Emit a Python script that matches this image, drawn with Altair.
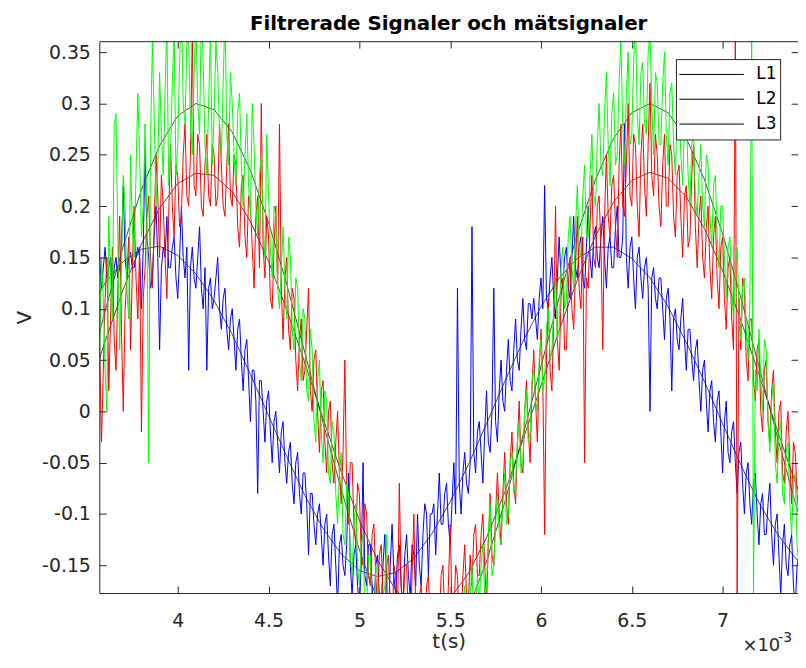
import altair as alt
import pandas as pd

# ---------------- text ----------------
TITLE = "Filtrerade Signaler och mätsignaler"
X_TITLE = "t(s)"
Y_TITLE = "V"
SERIES = ["L1", "L2", "L3"]

# ---------------- axes ----------------
X_DOMAIN_MS = [3.568, 7.415]
Y_DOMAIN = [-0.177, 0.3607]
X_TICKS_MS = [4.0, 4.5, 5.0, 5.5, 6.0, 6.5, 7.0]
Y_TICKS = [-0.15, -0.1, -0.05, 0, 0.05, 0.1, 0.15, 0.2, 0.25, 0.3, 0.35]

# ---------------- filtered (smooth) signals, t in ms ----------------
SMOOTH_T_MS = [3.5, 3.6, 3.7, 3.8, 3.9, 4.0, 4.1, 4.2, 4.3, 4.4, 4.5, 4.6, 4.7, 4.8,
               4.9, 5.0, 5.1, 5.2, 5.3, 5.4, 5.5, 5.6, 5.7, 5.8, 5.9, 6.0, 6.1, 6.2,
               6.3, 6.4, 6.5, 6.6, 6.7, 6.8, 6.9, 7.0, 7.1, 7.2, 7.3, 7.4, 7.5]
L1 = [0.030, 0.098, 0.161, 0.216, 0.259, 0.288, 0.300, 0.294, 0.272, 0.235, 0.184,
      0.124, 0.057, -0.011, -0.076, -0.135, -0.184, -0.218, -0.237, -0.239, -0.223,
      -0.192, -0.146, -0.089, -0.024, 0.044, 0.111, 0.173, 0.226, 0.266, 0.291,
      0.300, 0.291, 0.266, 0.226, 0.173, 0.111, 0.044, -0.024, -0.089, -0.146]
L2 = [0.015, 0.068, 0.119, 0.163, 0.198, 0.222, 0.232, 0.230, 0.214, 0.185, 0.146,
      0.099, 0.047, -0.007, -0.059, -0.106, -0.145, -0.174, -0.190, -0.192, -0.182,
      -0.158, -0.123, -0.079, -0.028, 0.025, 0.079, 0.128, 0.171, 0.204, 0.225,
      0.233, 0.227, 0.209, 0.178, 0.137, 0.089, 0.036, -0.018, -0.069, -0.115]
L3 = [0.095, 0.125, 0.146, 0.158, 0.161, 0.152, 0.134, 0.108, 0.075, 0.036, -0.004,
      -0.044, -0.082, -0.114, -0.139, -0.155, -0.161, -0.157, -0.143, -0.119, -0.088,
      -0.052, -0.012, 0.029, 0.068, 0.102, 0.130, 0.149, 0.160, 0.160, 0.149,
      0.130, 0.102, 0.067, 0.029, -0.012, -0.052, -0.089, -0.119, -0.143, -0.157]

# ---------------- measured signals (mV), sampled every 0.01 ms from 3.56 ms ----------------
T0_MS = 3.56
DT_MS = 0.01
GREEN_MV = [
    20, 60, 150, 110, 40, 0, 190, 130, 90, 280,
    290, 170, 60, 140, 230, 200, 120, 90, 250, 180,
    150, 230, 310, 250, 170, 200, 280, 190, -50, 260,
    360, 290, 200, 240, 330, 270, 230, 310, 380, 220,
    250, 320, 370, 230, 260, 340, 400, 300, 280, 360,
    360, 280, 250, 330, 380, 300, 270, 390, 340, 260,
    230, 300, 370, 240, 290, 360, 330, 270, 250, 320,
    390, 270, 240, 330, 300, 250, 220, 290, 310, 240,
    200, 250, 290, 220, 190, 300, 260, 200, 170, 230,
    250, 180, 150, 270, 210, 160, 130, 200, 190, 120,
    100, 140, 180, 120, 90, 170, 150, 80, 60, 130,
    120, 50, 30, 100, 90, 20, 10, 80, 60, -10,
    -30, 30, 50, -20, -50, 20, 10, -60, -70, -10,
    -20, -80, -110, -60, -40, -120, -130, -70, -80, -140,
    -160, -110, -90, -150, -170, -130, -120, -200, -190, -140,
    -140, -190, -210, -150, -160, -220, -230, -180, -170, -120,
    -250, -210, -190, -240, -260, -220, -200, -270, -240, -190,
    -210, -250, -270, -230, -220, -280, -260, -210, -200, -250,
    -270, -220, -230, -260, -250, -210, -190, -240, -260, -230,
    -210, -260, -250, -200, -180, -230, -240, -190, -200, -250,
    -230, -190, -170, -240, -220, -180, -150, -210, -200, -160,
    -190, -150, -130, -180, -170, -120, -90, -160, -150, -110,
    -80, -120, -130, -90, -60, -110, -100, -50, -40, -80,
    -70, -30, -10, -60, -50, 0, 20, -30, -20, 30,
    40, 10, 0, 50, 70, 20, 30, 80, 100, 50,
    60, 100, 130, 70, 80, 140, 160, 100, 110, 170,
    190, 140, 120, 180, 220, 160, 150, 210, 240, 170,
    170, 230, 270, 210, 200, 260, 300, 240, 230, 290,
    330, 260, 220, 290, 310, 240, 250, 320, 360, 280,
    240, 310, 350, 260, 270, 340, 380, 290, 260, 330,
    340, 280, 270, 350, 370, 300, 250, 330, 320, 260,
    260, 320, 350, 270, 240, 310, 320, 260, 230, 300,
    300, 250, 220, 280, 290, 230, 200, 260, 270, 210,
    190, 230, 260, 200, 180, 250, 240, 190, 160, 220,
    230, 170, 140, 200, 200, 150, 110, 160, 170, 120,
    90, 140, 160, 100, 70, 120, 130, 80, 50, 110,
    370, -180, 40, 20, 80, 30, 0, 70, 60, -10,
    -40, 10, 30, -50, -70, -20, -10, -80, -90, -40,
    -30, -90, -120, -70, -60, -130, -150]
RED_MV = [
    140, 60, -30, 40, 110, 150, 20, 90, 160, 70,
    40, 120, 190, 80, 0, 100, 130, 170, 60, 140,
    200, 130, 90, 160, -20, 110, 140, 190, 210, 150,
    120, 180, 250, 210, 150, 230, 200, 150, 110, 190,
    260, 200, 170, 240, 230, 180, 190, 250, 280, 210,
    200, 250, 370, 220, 210, 270, 260, 200, 190, 240,
    270, 210, 200, 260, 250, 200, 210, 280, 240, 200,
    190, 240, 280, 210, 200, 250, 240, 180, 160, 220,
    230, 170, 150, 210, 200, 160, 120, 190, 210, 140,
    300, 160, 130, 190, 170, 110, 100, 160, 200, 120,
    280, 120, 70, 130, 150, 80, 60, 120, 110, 50,
    20, 70, 90, 30, 40, 80, 120, 20, 0, 50,
    60, 0, -40, 20, 30, -30, -60, 0, 10, -50,
    -70, -30, 0, -60, -90, -40, 50, -80, -110, -50,
    -50, -110, -130, -70, -80, -140, -150, -90, -100, -160,
    -170, -120, -110, -160, -190, -140, -130, -180, -200, -150,
    -140, -190, -210, -150, -160, -200, -70, -170, -200, -150,
    -150, -200, -220, -160, -100, -190, -230, -180, -170, -210,
    -220, -170, -160, -210, -240, -190, -180, -230, -210, -160,
    -150, -200, -230, -170, -110, -190, -200, -150, -160, -210,
    -210, -160, -130, -180, -190, -140, -170, -120, -110, -160,
    -160, -120, -100, -150, -190, -130, -80, -140, -150, -100,
    -60, -100, -130, -80, -40, -90, -110, -50, -20, -70,
    -90, -30, 10, -50, -60, 0, 30, -20, -50, 20,
    60, 10, -30, 40, 80, 30, -120, 50, 110, 40,
    20, 90, 200, 70, 40, 110, 130, 60, 60, 120,
    150, 100, 80, 140, 190, 120, 100, 170, -50, 130,
    120, 180, 230, 150, 140, 200, 210, 160, 60, 190,
    250, 190, 170, 220, 230, 180, 150, 240, 280, 200,
    190, 240, 300, 210, 200, 270, 260, 200, 170, 250,
    280, 220, 190, 260, 320, 230, 210, 270, 250, 200,
    180, 240, 270, 200, 200, 260, 250, 190, 170, 230,
    240, 190, 150, 210, 220, 160, 170, 230, 260, 180,
    140, 190, 210, 150, 130, 180, 200, 140, 110, 170,
    190, 130, 100, 160, 170, 110, 80, 140, 150, 90,
    60, 370, -180, 110, 60, 130, 120, 50, 30, 90,
    90, 30, 10, 60, 70, 0, -20, 40, 50, -10,
    -30, 20, 40, -20, -50, 0, 10, -60, -70, -20,
    0, -50, -90, -30, -40, -80, -100]
BLUE_MV = [
    195, 150, 120, 140, 160, 130, 140, 150, 110, 140,
    150, 130, 140, 160, 220, 150, 130, 150, 155, 140,
    140, 150, 160, 150, 100, 160, 255, 170, 150, 120,
    130, 170, 200, 150, 60, 140, 160, 150, 190, 140,
    140, 160, 170, 130, 110, 150, 200, 150, 130, 160,
    40, 140, 160, 130, 120, 150, 180, 120, 100, 140,
    40, 120, 130, 100, 110, 130, 150, 100, 80, 110,
    120, 80, 60, 90, 100, 70, 40, 80, 90, 50,
    20, 60, 70, 30, -10, 40, 40, 10, -80, 30,
    30, 0, -30, 10, 20, -20, -50, -10, 0, -30,
    -60, -20, -10, -50, -70, -40, -30, -70, -90, -50,
    -40, -80, -100, -60, -60, -90, -140, -80, -80, -110,
    -130, -100, -90, -120, -150, -110, -100, -140, -170, -120,
    -110, -150, -190, -130, -120, -150, -160, -130, -60, -150,
    -180, -140, -130, -170, -190, -150, -50, -160, -170, -130,
    -130, -170, -200, -150, -140, -180, -190, -150, -120, -170,
    -200, -150, -110, -160, -180, -140, -130, -170, -190, -140,
    -120, -160, -180, -130, -140, -170, -100, -150, -170, -120,
    -90, -100, -160, -100, -100, -90, -140, -100, -60, -110,
    -110, -80, -70, -110, -130, -90, -50, -100, 120, -70,
    -100, -60, -40, -70, -80, -50, 180, -40, -60, -20,
    -10, -40, -70, -20, 20, -30, -40, 0, 120, -10,
    -30, 20, 50, 10, 0, 40, 70, 30, 20, 60,
    90, 50, 40, 80, 110, 70, 60, 105, 105, 90,
    110, 90, 70, 110, 130, 100, 220, 110, 100, 130,
    150, 110, 90, 130, 170, 130, 120, 150, 160, 120,
    110, 150, 190, 140, 130, 160, 170, 130, 120, 160,
    200, 150, 130, 170, 180, 150, 140, 170, 190, 150,
    120, 160, 170, 140, 140, 180, 200, 150, 150, 170,
    280, 150, 120, 160, 170, 130, 100, 150, 160, 130,
    110, 140, 150, 120, 0, 130, 140, 110, 100, 130,
    130, 100, 70, 110, 120, 90, 20, 90, 100, 70,
    60, 90, 110, 70, 40, 80, 80, 50, 30, 60,
    70, 30, 0, 40, 50, 10, -20, 20, 30, -10,
    -30, 10, 20, -20, -60, -10, 10, -40, -50, -20,
    -10, -50, -80, -40, -30, -70, -100, -60, -50, -90,
    -110, -70, -60, -100, -130, -90, -80, -120, -120, -90,
    -70, -120, -150, -110, -100, -140, -180, -130, -110, -150,
    -160, -130, -120, -170, -190, -150, -140]

# ---------------- tables ----------------
smooth_rows = []
for name, vals in zip(SERIES, [L1, L2, L3]):
    for t, v in zip(SMOOTH_T_MS, vals):
        smooth_rows.append({"t": t * 1e-3, "v": v, "series": name})
smooth_df = pd.DataFrame(smooth_rows)


def measured(mv):
    return pd.DataFrame({"t": [(T0_MS + DT_MS * i) * 1e-3 for i in range(len(mv))],
                         "v": [m / 1000.0 for m in mv]})


green_df = measured(GREEN_MV)
red_df = measured(RED_MV)
blue_df = measured(BLUE_MV)

# ---------------- styling ----------------
W, H = 704, 556
AX = "#262626"
FONT = "DejaVu Sans"
xs = alt.Scale(domain=[X_DOMAIN_MS[0] * 1e-3, X_DOMAIN_MS[1] * 1e-3], nice=False, zero=False)
ys = alt.Scale(domain=Y_DOMAIN, nice=False, zero=False)
X_TICKS = [v * 1e-3 for v in X_TICKS_MS]
xlab = "format(datum.value*1000, '.1~f')"
ylab = "datum.value < 0 ? '-' + format(-datum.value, '.2~f') : format(datum.value, '.2~f')"


def tick_axis(orient, values, offset=0, domain=False, ticks=True):
    return alt.Axis(orient=orient, offset=offset, values=values, labels=False,
                    domain=domain, domainColor=AX, domainWidth=1,
                    ticks=ticks, tickSize=7, tickColor=AX, tickWidth=1,
                    grid=False, title=None, zindex=1)


main_x = alt.Axis(orient="bottom", title=X_TITLE, values=X_TICKS, labelExpr=xlab,
                  ticks=False, tickSize=0, domain=True, domainColor=AX, domainWidth=1,
                  grid=False, labelFont=FONT, labelFontSize=19, labelColor=AX,
                  labelPadding=19, titleFont=FONT, titleFontSize=20, titleColor=AX,
                  titleFontWeight="normal", titleY=55, titleBaseline="alphabetic", zindex=1)
main_y = alt.Axis(orient="left", title=Y_TITLE, values=Y_TICKS, labelExpr=ylab,
                  ticks=False, tickSize=0, domain=True, domainColor=AX, domainWidth=1,
                  grid=False, labelFont=FONT, labelFontSize=19, labelColor=AX,
                  labelPadding=9, titleFont=FONT, titleFontSize=20, titleColor=AX,
                  titleFontWeight="normal", titleX=-69, titleY=H / 2,
                  titleBaseline="alphabetic", titleAlign="center", zindex=1)

smooth = alt.Chart(smooth_df).mark_line(strokeWidth=0.7, clip=True).encode(
    x=alt.X("t:Q", scale=xs, axis=main_x),
    y=alt.Y("v:Q", scale=ys, axis=main_y),
    color=alt.Color("series:N",
                    scale=alt.Scale(domain=SERIES, range=["#000000"] * 3),
                    legend=alt.Legend(title=None, orient="none", legendX=581, legendY=18,
                                      symbolType="stroke", symbolSize=4225,
                                      symbolStrokeWidth=1, clipHeight=25,
                                      labelFont=FONT, labelFontSize=17, labelColor="#000000",
                                      labelOffset=12, padding=3, rowPadding=0,
                                      fillColor="white", strokeColor=AX)),
    detail="series:N",
)

blue = alt.Chart(blue_df).mark_line(color="#0000FF", strokeWidth=1.0, clip=True).encode(
    x=alt.X("t:Q", scale=xs, axis=tick_axis("top", X_TICKS, domain=True, ticks=False)),
    y=alt.Y("v:Q", scale=ys, axis=tick_axis("right", Y_TICKS, domain=True, ticks=False)),
)
red = alt.Chart(red_df).mark_line(color="#FF0000", strokeWidth=1.0, clip=True).encode(
    x=alt.X("t:Q", scale=xs, axis=tick_axis("top", X_TICKS, offset=-H)),
    y=alt.Y("v:Q", scale=ys, axis=tick_axis("right", Y_TICKS, offset=-W)),
)
green = alt.Chart(green_df).mark_line(color="#00FF00", strokeWidth=1.0, clip=True).encode(
    x=alt.X("t:Q", scale=xs, axis=tick_axis("bottom", X_TICKS, offset=-H)),
    y=alt.Y("v:Q", scale=ys, axis=tick_axis("left", Y_TICKS, offset=-W)),
)

one = pd.DataFrame({"a": [0]})
exp_base = alt.Chart(one).mark_text(text="×10", font=FONT, fontSize=18, color=AX,
                                    align="left", baseline="alphabetic").encode(
    x=alt.value(W - 56), y=alt.value(H + 58))
exp_sup = alt.Chart(one).mark_text(text="-3", font=FONT, fontSize=14, color=AX,
                                   align="left", baseline="alphabetic").encode(
    x=alt.value(W - 20), y=alt.value(H + 49))

chart = alt.layer(smooth, blue, red, green, exp_base, exp_sup).resolve_axis(
    x="independent", y="independent"
).properties(
    width=W, height=H,
    autosize=alt.AutoSizeParams(type="none"),
    padding={"left": 92, "top": 31, "right": 0, "bottom": 60},
    title=alt.Title(TITLE, font=FONT, fontSize=20, fontWeight="bold", color="#000000",
                    anchor="middle", baseline="alphabetic", offset=-9),
).configure_view(stroke=None)

chart.save("out.html", embed_options={"renderer": "svg", "actions": False})
